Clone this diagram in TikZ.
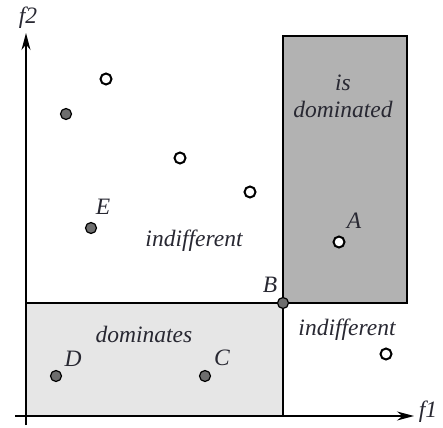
\documentclass[tikz,border=0pt]{standalone}
\usepackage{fontspec}
\setmainfont{Liberation Serif}
\usetikzlibrary{arrows.meta}
\definecolor{darkreg}{RGB}{178,178,178}
\definecolor{lightreg}{RGB}{230,230,230}
\definecolor{dotgray}{RGB}{110,110,110}
\definecolor{txt}{RGB}{40,40,50}
\tikzset{
  lbl/.style={font=\fontsize{23.5}{25}\selectfont\itshape, text=txt, inner sep=0pt},
  opendot/.style={circle, draw=black, fill=white, line width=2pt, minimum size=11pt, inner sep=0pt},
  filldot/.style={circle, draw=black, fill=dotgray, line width=1.2pt, minimum size=11pt, inner sep=0pt},
  reg/.style={draw=black, line width=1.4pt},
  ax/.style={line width=1.3pt, -{Stealth[length=17pt,width=9pt]}}
}
\begin{document}
\begin{tikzpicture}[x=1pt,y=-1pt]
\useasboundingbox (0,0) rectangle (443,427);
% regions
\draw[reg, fill=darkreg] (283,36) rectangle (407,303);
\draw[reg, fill=lightreg] (26,303) rectangle (283,416);
% axes
\coordinate (xs) at (15,416);
\coordinate (xe) at (414,416);
\coordinate (ys) at (26,425);
\coordinate (ye) at (26,33);
\draw[ax] (xs) -- (xe);
\draw[ax] (ys) -- (ye);
\node[lbl] (f1) at (428,412) {f1};
\node[lbl] (f2) at (28,18) {f2};
% points
\node[opendot] (p1) at (106,79) {};
\node[opendot] (p2) at (180,158) {};
\node[opendot] (p3) at (250,192) {};
\node[opendot] (A) at (339,242) {};
\node[opendot] (p5) at (386,354) {};
\node[filldot] (q1) at (66,114) {};
\node[filldot] (E) at (91,228) {};
\node[filldot] (D) at (56,376) {};
\node[filldot] (C) at (205,376) {};
\node[filldot] (B) at (283,303) {};
% point labels
\node[lbl] (lE) at (103,207) {E};
\node[lbl] (lA) at (354,221) {A};
\node[lbl] (lD) at (73,359) {D};
\node[lbl] (lC) at (222,358) {C};
\node[lbl] (lB) at (270,285) {B};
% region labels
\node[lbl] (t1) at (343,83) {is};
\node[lbl] (t2) at (343,109) {dominated};
\node[lbl] (t3) at (194,241) {indifferent};
\node[lbl] (t4) at (144,334) {dominates};
\node[lbl] (t5) at (347,330) {indifferent};
\end{tikzpicture}
\end{document}
